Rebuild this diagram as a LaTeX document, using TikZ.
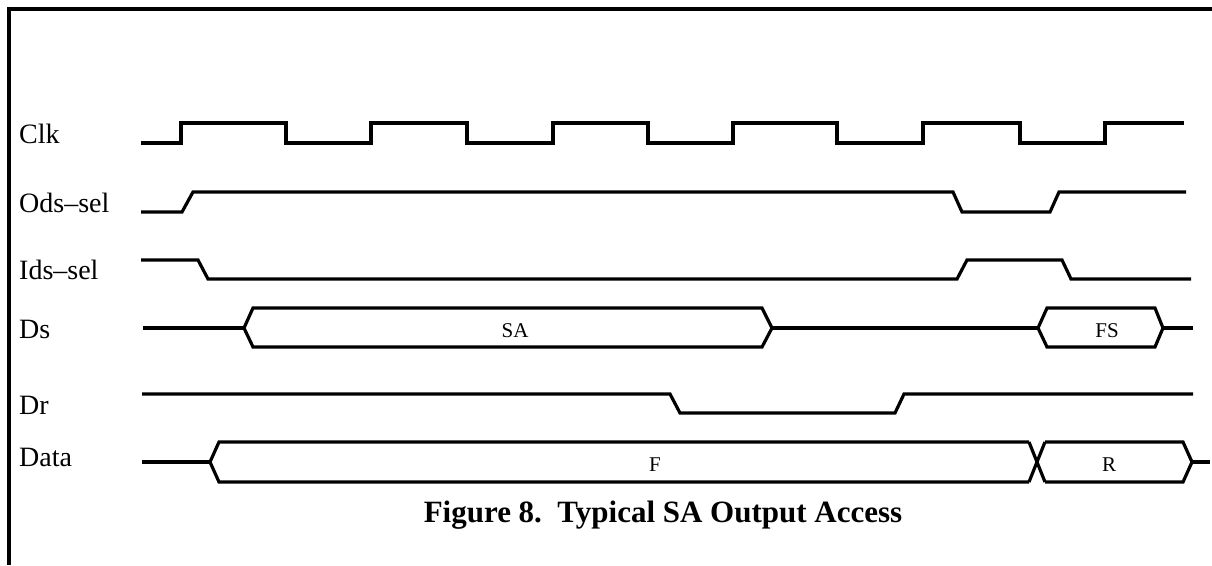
\documentclass[tikz,border=0pt]{standalone}
\usepackage{fontspec}
\setmainfont{Liberation Serif}
\begin{document}
\begin{tikzpicture}[x=1pt,y=-1pt,
  sig/.style={line width=3.2pt, line join=miter, line cap=butt},
  frameline/.style={line width=3.5pt},
  lbl/.style={anchor=base west, inner sep=0pt, font=\fontsize{28}{30}\selectfont},
  val/.style={anchor=base, inner sep=0pt, font=\fontsize{21}{23}\selectfont},
  captxt/.style={anchor=base, inner sep=0pt, font=\bfseries\fontsize{31}{33}\selectfont}]
\useasboundingbox (0,0) rectangle (1212,565);
% frame
\draw[frameline] (9,565) -- (9,9) -- (1212,9);
% labels
\node[lbl] (lclk) at (19,143) {Clk};
\node[lbl] (lods) at (19,212) {Ods--sel};
\node[lbl] (lids) at (19,279) {Ids--sel};
\node[lbl] (lds) at (19,338) {Ds};
\node[lbl] (ldr) at (19,414) {Dr};
\node[lbl] (ldata) at (19,466) {Data};
% Clk
\draw[sig] (141,143) -- (181,143) -- (181,123) -- (286,123) -- (286,143) -- (371,143) -- (371,123) -- (467,123) -- (467,143) -- (553,143) -- (553,123) -- (648,123) -- (648,143) -- (733,143) -- (733,123) -- (837,123) -- (837,143) -- (923,143) -- (923,123) -- (1020,123) -- (1020,143) -- (1105,143) -- (1105,123) -- (1184,123);
% Ods-sel
\draw[sig] (141,212) -- (182,212) -- (193,192) -- (953,192) -- (962,212) -- (1050,212) -- (1059,192) -- (1186,192);
% Ids-sel
\draw[sig] (141,260) -- (198,260) -- (208,279) -- (957,279) -- (967,260) -- (1062,260) -- (1071,279) -- (1191,279);
% Ds
\draw[sig] (143,328) -- (244,328);
\draw[sig] (244,328) -- (253,308) -- (762,308) -- (772,328) -- (762,347) -- (253,347) -- cycle;
\draw[sig] (772,328) -- (1038,328);
\draw[sig] (1038,328) -- (1047,308) -- (1155,308) -- (1163,328) -- (1155,347) -- (1047,347) -- cycle;
\draw[sig] (1163,328) -- (1193,328);
\node[val] (sa) at (515,337) {SA};
\node[val] (fs) at (1107,337) {FS};
% Dr
\draw[sig] (142,394) -- (670,394) -- (680,413) -- (895,413) -- (904,394) -- (1193,394);
% Data
\draw[sig] (142,462) -- (210,462);
\draw[sig] (1029,442) -- (219,442) -- (210,462) -- (219,482) -- (1029,482);
\draw[sig] (1029,442) -- (1045,482);
\draw[sig] (1029,482) -- (1045,442);
\draw[sig] (1045,442) -- (1183,442) -- (1192,462) -- (1183,482) -- (1045,482);
\draw[sig] (1192,462) -- (1210,462);
\node[val] (f) at (655,471) {F};
\node[val] (r) at (1109,471) {R};
% caption
\node[captxt] (caption) at (663,522) {Figure 8.\ \ Typical SA Output Access};
\end{tikzpicture}
\end{document}
